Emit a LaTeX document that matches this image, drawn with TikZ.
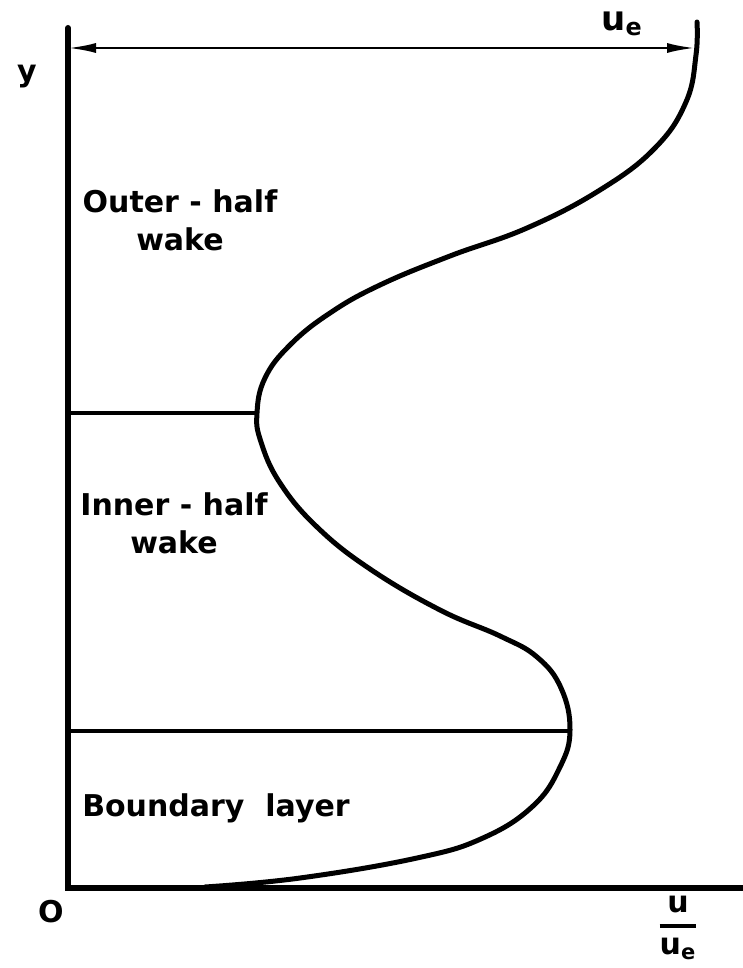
\documentclass[tikz,border=0pt]{standalone}
\usepackage{fontspec}
\usepackage{amsmath}
\setmainfont{DejaVu Sans}
\usetikzlibrary{arrows.meta}
\begin{document}
\begin{tikzpicture}[x=0.5pt,y=-0.5pt,>={Latex[length=14pt,width=5pt]}, font=\fontsize{15}{19}\selectfont\bfseries, line join=round, line cap=round]
	\def\xo{68} \def\yo{888} \def\ytop{28}
	\useasboundingbox (0,0) rectangle (743,968);
	\coordinate (O) at (\xo,\yo);
	\coordinate (ytop) at (\xo,\ytop);
	\coordinate (xend) at (743,\yo);
	\coordinate (aL) at (\xo,48);
	\coordinate (aR) at (695,48);
	\coordinate (bl) at (\xo,731); \coordinate (blR) at (570,731);
	\coordinate (wk) at (\xo,413); \coordinate (wkR) at (257,413);
	\draw[line width=3pt, line join=miter] (ytop)--(O)--(xend);
	\draw[line width=1.6pt] (bl)--(blR);
	\draw[line width=1.6pt] (wk)--(wkR);
	\draw[<->, line width=1.3pt] (aL)--(aR);
	% velocity profile
	\draw[line width=2.5pt, smooth, tension=0.7] plot coordinates {(205,887) (300,878) (417,858) (483,838) (533,806) (560,767) (570,730) (561,688) (537,657) (500,636) (440,610) (370,569) (317,527) (280,483) (261,442) (257,413) (265,378) (290,345) (330,313) (380,285) (450,256) (527,228) (600,190) (655,148) (686,102) (696,55) (697,22)};
	\node (ue) at (622,24) {\fontsize{17}{19}\selectfont u\textsubscript{e}};
	\node (ylab) at (27,77) {y};
	\node (olab) at (51,912) {O};
	\node (uue) at (678,928) {$\genfrac{}{}{1.8pt}{0}{\text{u}}{\text{u\textsubscript{e}}}$};
	\node[align=center] (outer) at (180,220) {Outer - half\\wake};
	\node[align=center] (inner) at (174,523) {Inner - half\\wake};
	\node (bdry) at (216,808) {Boundary\ \ layer};
\end{tikzpicture}
\end{document}
